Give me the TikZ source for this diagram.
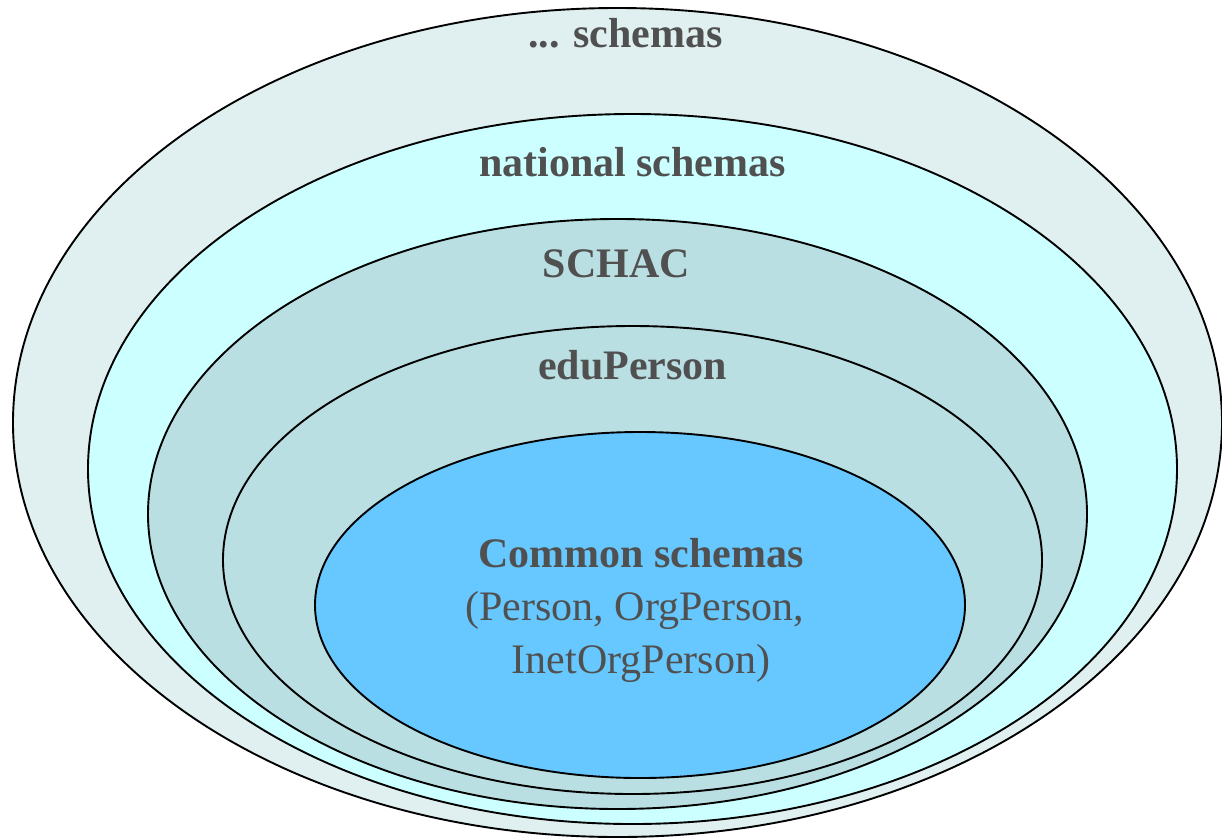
\documentclass[tikz,border=0pt]{standalone}
\usepackage{fontspec}
\setmainfont{Liberation Serif}
\definecolor{outerfill}{HTML}{E0F0F0}
\definecolor{natfill}{HTML}{CCFFFF}
\definecolor{schacfill}{HTML}{BADFE2}
\definecolor{innerfill}{HTML}{66C8FF}
\definecolor{txt}{HTML}{505050}
\tikzset{
  ring/.style={draw=black, line width=1.9pt},
  lbl/.style={anchor=base, inner sep=0pt, text=txt, font=\fontsize{42}{53}\selectfont\bfseries},
  lblreg/.style={anchor=base, inner sep=0pt, text=txt, font=\fontsize{42}{53}\selectfont}
}
\begin{document}
\begin{tikzpicture}[x=1pt,y=-1pt]
\useasboundingbox (0,0) rectangle (1222,838);
\fill[white] (0,0) rectangle (1222,838);
% rings
\draw[ring, fill=outerfill] (617.5,422.5) ellipse [x radius=604.5pt, y radius=414.5pt];
\draw[ring, fill=natfill] (632.5,469) ellipse [x radius=544.5pt, y radius=355pt];
\draw[ring, fill=schacfill] (617.5,514) ellipse [x radius=469.5pt, y radius=295pt];
\draw[ring, fill=schacfill] (632.5,560) ellipse [x radius=409.5pt, y radius=234pt];
\draw[ring, fill=innerfill] (640,605) ellipse [x radius=325pt, y radius=173pt];
% labels
\node[lbl] (other) at (625.5,47) {... schemas};
\node[lbl] (national) at (632.5,176) {national schemas};
\node[lbl] (schac) at (616.5,277) {SCHAC};
\node[lbl] (edu) at (632.5,379) {eduPerson};
\node[lbl] (common) at (641,567) {Common schemas};
\node[lblreg] (common2) at (635,620) {(Person, OrgPerson,};
\node[lblreg] (common3) at (641,673) {InetOrgPerson)};
\end{tikzpicture}
\end{document}
